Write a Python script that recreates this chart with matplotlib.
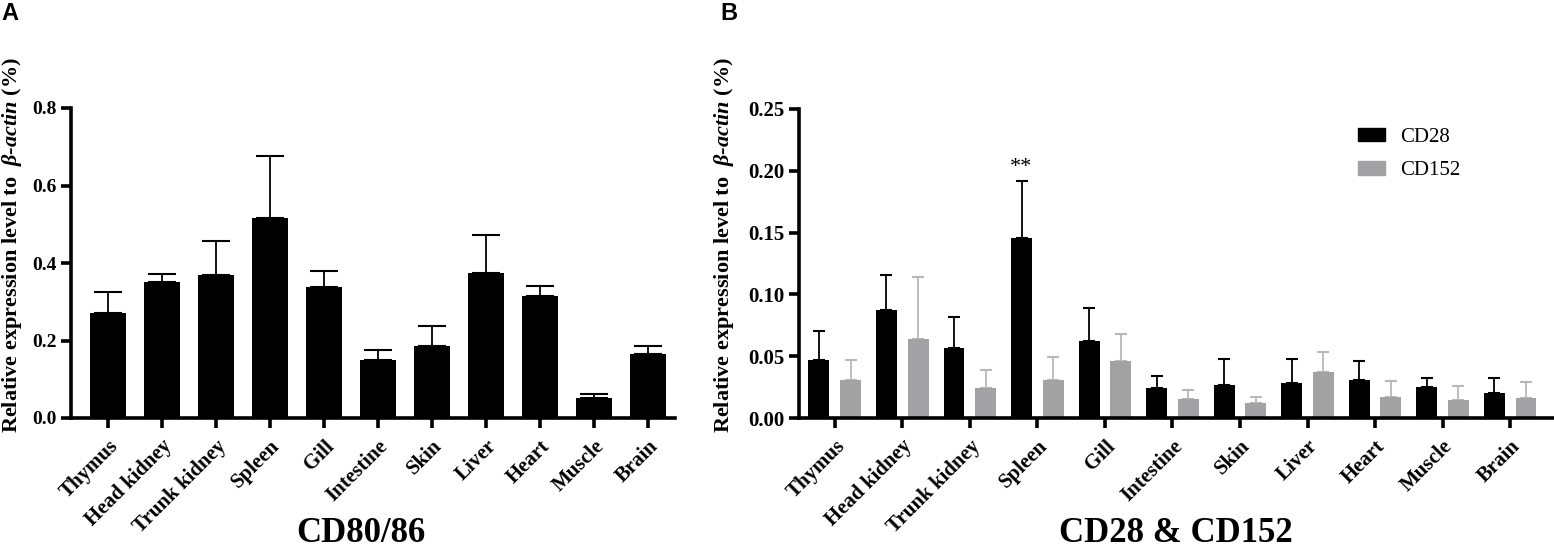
import numpy as np
import matplotlib
matplotlib.use("Agg")
import matplotlib.pyplot as plt
from matplotlib.patches import Patch

plt.rcParams["font.family"] = ["Liberation Serif", "DejaVu Serif"]
plt.rcParams["font.weight"] = "bold"
plt.rcParams["mathtext.fontset"] = "custom"
plt.rcParams["mathtext.rm"] = "Liberation Serif:bold"
plt.rcParams["mathtext.it"] = "Liberation Serif:italic:bold"
plt.rcParams["mathtext.bf"] = "Liberation Serif:bold"

# tissues on the x axis
tissues = ["Thymus", "Head kidney", "Trunk kidney", "Spleen", "Gill", "Intestine",
           "Skin", "Liver", "Heart", "Muscle", "Brain"]

# panel A: CD80/86 (mean, upper error)
cd8086 = [0.270, 0.350, 0.368, 0.517, 0.338, 0.149, 0.187, 0.374, 0.315, 0.052, 0.166]
cd8086_err = [0.055, 0.022, 0.088, 0.158, 0.042, 0.026, 0.051, 0.097, 0.026, 0.011, 0.019]

# panel B: CD28 and CD152
cd28 = [0.047, 0.087, 0.057, 0.146, 0.062, 0.024, 0.027, 0.028, 0.031, 0.025, 0.020]
cd28_err = [0.023, 0.029, 0.025, 0.046, 0.027, 0.010, 0.021, 0.020, 0.015, 0.007, 0.012]
cd152 = [0.031, 0.064, 0.024, 0.031, 0.046, 0.015, 0.012, 0.037, 0.017, 0.0145, 0.016]
cd152_err = [0.016, 0.050, 0.015, 0.018, 0.022, 0.008, 0.005, 0.016, 0.013, 0.0115, 0.0135]

W, H = 1554, 551
fig = plt.figure(figsize=(W / 100, H / 100), dpi=100)

ylab = r"Relative expression level to  $\mathit{\beta}$-$\mathit{actin}$ (%)"
x = np.arange(len(tissues))


def style(ax, ysize):
    for s in ["top", "right"]:
        ax.spines[s].set_visible(False)
    for s in ["left", "bottom"]:
        ax.spines[s].set_linewidth(2.6)
    ax.tick_params(axis="both", width=2.6, length=7)
    ax.tick_params(axis="y", labelsize=ysize)
    ax.tick_params(axis="x", pad=6)
    ax.set_xticks(x)
    ax.set_xticklabels(tissues, rotation=45, ha="right", rotation_mode="anchor",
                       fontsize=15, fontweight="bold")
    for lab in ax.get_yticklabels():
        lab.set_fontweight("bold")


# ---- panel A ----
axA = fig.add_axes([71 / W, 1 - 418 / H, (675 - 71) / W, 310 / H])
axA.bar(x, cd8086, width=0.66, color="black", zorder=2)
axA.errorbar(x, cd8086, yerr=[np.zeros(len(x)), cd8086_err], fmt="none",
             ecolor="black", elinewidth=1.3, capsize=10, capthick=1.5, zorder=1)
axA.set_ylim(0, 0.8)
axA.set_yticks([0.0, 0.2, 0.4, 0.6, 0.8])
axA.set_yticklabels(["0.0", "0.2", "0.4", "0.6", "0.8"])
axA.set_xlim(-0.685, 10.5)
style(axA, 14)

# ---- panel B ----
axB = fig.add_axes([799 / W, 1 - 418 / H, (1554 - 799) / W, 309 / H])
off, bw = 0.235, 0.31
axB.bar(x - off, cd28, width=bw, color="black", zorder=2)
axB.bar(x + off, cd152, width=bw, color="#a2a2a5", zorder=2)
axB.errorbar(x - off, cd28, yerr=[np.zeros(len(x)), cd28_err], fmt="none",
             ecolor="black", elinewidth=1.3, capsize=4, capthick=1.5, zorder=1)
axB.errorbar(x + off, cd152, yerr=[np.zeros(len(x)), cd152_err], fmt="none",
             ecolor="#b8b8ba", elinewidth=1.3, capsize=4, capthick=1.5, zorder=1)
axB.set_ylim(0, 0.25)
axB.set_yticks([0.0, 0.05, 0.10, 0.15, 0.20, 0.25])
axB.set_yticklabels(["0.00", "0.05", "0.10", "0.15", "0.20", "0.25"])
axB.set_xlim(-0.53, 10.65)
style(axB, 15)
axB.text(3 - off, cd28[3] + cd28_err[3] + 0.003, "**", ha="center", va="bottom",
         fontsize=16, fontweight="normal")

handles = [Patch(color="black", label="CD28"), Patch(color="#a2a2a5", label="CD152")]
leg = axB.legend(handles=handles, loc="upper left", bbox_to_anchor=(0.716, 1.0),
                 frameon=False, handlelength=1.3, handleheight=0.6, labelspacing=0.7,
                 handletextpad=0.7, prop={"family": "Liberation Serif", "size": 15,
                                          "weight": "normal"})

# axis labels and panel titles
fig.text(12 / W, 1 - 245 / H, ylab, rotation=90, ha="center", va="center",
         fontsize=16, fontweight="bold")
fig.text(724 / W, 1 - 245 / H, ylab, rotation=90, ha="center", va="center",
         fontsize=16, fontweight="bold")
fig.text(361 / W, 1 - 533 / H, "CD80/86", ha="center", va="center",
         fontsize=25, fontweight="bold")
fig.text(1176 / W, 1 - 533 / H, "CD28 & CD152", ha="center", va="center",
         fontsize=25, fontweight="bold")
fig.text(1 / W, 1 - 14 / H, "A", ha="left", va="center", fontsize=17,
         fontweight="bold", family="Liberation Sans")
fig.text(720 / W, 1 - 14 / H, "B", ha="left", va="center", fontsize=17,
         fontweight="bold", family="Liberation Sans")

fig.savefig("out.png", dpi=100)
